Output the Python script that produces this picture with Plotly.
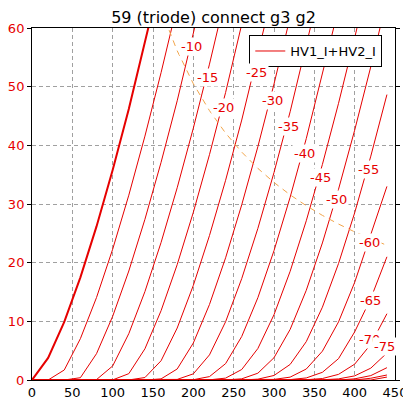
import plotly.graph_objects as go

# Plate voltage sample points (V)
va = [0, 20, 40, 60, 80, 100, 120, 140, 160, 180, 200, 220,
      240, 260, 280, 300, 320, 340, 360, 380, 400, 420, 440]

# Grid voltages (V)
grid_v = [0, -5, -10, -15, -20, -25, -30, -35, -40, -45,
          -50, -55, -60, -65, -70, -75, -80, -85, -90]

# Plate current (mA) for each grid voltage
ia_g0 = [0, 3.76, 9.92, 17.5, 26.18, 35.78, 46.18, 57.31, 69.09]
ia_g5 = [0, 0, 1.71, 7.05, 14.06, 22.29, 31.5, 41.57, 52.39, 63.89]
ia_g10 = [0, 0, 0, 0.39, 4.49, 10.85, 18.58, 27.39, 37.1, 47.59, 58.81, 70.65]
ia_g15 = [0, 0, 0, 0, 0.07, 2.39, 7.9, 15.07, 23.44, 32.77, 42.93, 53.84, 65.44]
ia_g20 = [0, 0, 0, 0, 0, 0.02, 1.08, 5.32, 11.81, 19.67, 28.59, 38.41, 49.01,
          60.31, 72.26]
ia_g25 = [0, 0, 0, 0, 0, 0, 0.01, 0.42, 3.28, 8.86, 16.13, 24.62, 34.04,
          44.31, 55.32, 66.99]
ia_g30 = [0, 0, 0, 0, 0, 0, 0, 0, 0.19, 1.88, 6.31, 12.87, 20.83, 29.86,
          39.77, 50.45, 61.83]
ia_g35 = [0, 0, 0, 0, 0, 0, 0, 0, 0, 0.1, 1.05, 4.28, 9.93, 17.28, 25.84,
          35.37, 45.72, 56.8, 68.55]
ia_g40 = [0, 0, 0, 0, 0, 0, 0, 0, 0, 0, 0.05, 0.58, 2.79, 7.42, 14.03,
          22.05, 31.15, 41.15, 51.91, 63.36]
ia_g45 = [0, 0, 0, 0, 0, 0, 0, 0, 0, 0, 0, 0.03, 0.32, 1.79, 5.37, 11.13,
          18.52, 27.14, 36.74, 47.16, 58.32, 70.1]
ia_g50 = [0, 0, 0, 0, 0, 0, 0, 0, 0, 0, 0, 0, 0.02, 0.2, 1.16, 3.8, 8.62,
          15.29, 23.36, 32.51, 42.58, 53.41, 64.95]
ia_g55 = [0, 0, 0, 0, 0, 0, 0, 0, 0, 0, 0, 0, 0, 0, 0.14, 0.77, 2.65,
          6.54, 12.41, 19.85, 28.5, 38.16, 48.65]
ia_g60 = [0, 0, 0, 0, 0, 0, 0, 0, 0, 0, 0, 0, 0, 0, 0, 0.1, 0.49, 1.87,
          4.91, 9.9, 16.64, 24.74, 33.0]
ia_g65 = [0, 0, 0, 0, 0, 0, 0, 0, 0, 0, 0, 0, 0, 0, 0, 0, 0.07, 0.35,
          1.31, 3.64, 8.2, 13.9, 21.0]
ia_g70 = [0, 0, 0, 0, 0, 0, 0, 0, 0, 0, 0, 0, 0, 0, 0, 0, 0, 0.05, 0.25,
          0.96, 2.7, 6.09, 11.3]
ia_g75 = [0, 0, 0, 0, 0, 0, 0, 0, 0, 0, 0, 0, 0, 0, 0, 0, 0, 0, 0.04,
          0.19, 0.7, 2.02, 4.6]
ia_g80 = [0, 0, 0, 0, 0, 0, 0, 0, 0, 0, 0, 0, 0, 0, 0, 0, 0, 0, 0, 0,
          0.2, 0.75, 2.1]
ia_g85 = [0, 0, 0, 0, 0, 0, 0, 0, 0, 0, 0, 0, 0, 0, 0, 0, 0, 0, 0, 0, 0,
          0.3, 0.85]
ia_g90 = [0, 0, 0, 0, 0, 0, 0, 0, 0, 0, 0, 0, 0, 0, 0, 0, 0, 0, 0, 0, 0,
          0, 0.5]

# Plate dissipation limit curve (dashed orange)
pd_va = [160, 180, 200, 220, 240, 260, 280, 300, 320, 340, 360, 380, 400,
         420, 440]
pd_ia = [63.13, 56.11, 50.5, 45.91, 42.08, 38.85, 36.07, 33.67, 31.56,
         29.71, 28.06, 26.58, 25.25, 24.05, 22.95]

# Curve labels
label_text = ["-10", "-15", "-20", "-25", "-30", "-35", "-40", "-45", "-50",
              "-55", "-60", "-65", "-70", "-75"]
label_va = [197.9, 217.3, 237.1, 277.7, 298.4, 317.8, 337.3, 357.2, 377.0,
            417.1, 418.4, 419.2, 418.0, 437.3]
label_ia = [56.9, 51.6, 46.4, 52.5, 47.7, 43.2, 38.6, 34.5, 30.7,
            35.9, 23.5, 13.6, 6.9, 5.7]

curves = [ia_g0, ia_g5, ia_g10, ia_g15, ia_g20, ia_g25, ia_g30, ia_g35,
          ia_g40, ia_g45, ia_g50, ia_g55, ia_g60, ia_g65, ia_g70, ia_g75,
          ia_g80, ia_g85, ia_g90]

FONT = "DejaVu Sans"
RED = "#e60000"

fig = go.Figure()
for g, ia in zip(grid_v, curves):
    fig.add_trace(go.Scatter(
        x=va[:len(ia)], y=ia, mode="lines",
        line=dict(color=RED, width=2 if g == 0 else 1),
        name="HV1_I+HV2_I",
        showlegend=(g == -5),
        hoverinfo="skip",
    ))

fig.add_trace(go.Scatter(
    x=pd_va, y=pd_ia, mode="lines",
    line=dict(color="#f2a54a", width=1, dash="6px,5px"),
    showlegend=False, hoverinfo="skip",
))

for t, x, y in zip(label_text, label_va, label_ia):
    fig.add_annotation(x=x, y=y, text=t, showarrow=False,
                       font=dict(family=FONT, size=13, color=RED),
                       bgcolor="white", borderpad=1)

grid_style = dict(showgrid=True, gridcolor="#a0a0a0", gridwidth=1,
                  griddash="4px,3px", zeroline=False, showline=True,
                  linecolor="black", linewidth=1, automargin=False)

# The page body adds an 8px offset, so the figure is 8px smaller than the window
fig.update_layout(
    width=403, height=398,
    margin=dict(l=24, r=16, t=20, b=26),
    paper_bgcolor="white", plot_bgcolor="white",
    font=dict(family=FONT, size=13, color="black"),
    title=dict(text="59 (triode) connect g3 g2", x=0.5, xref="paper",
               xanchor="center", y=0.976, yref="container", yanchor="middle",
               font=dict(family=FONT, size=16, color="black")),
    xaxis=dict(range=[0, 450], tick0=0, dtick=50, ticks="", mirror=True,
               tickfont=dict(family=FONT, size=13, color="black"),
               **grid_style),
    yaxis=dict(range=[0, 60], tick0=0, dtick=10, ticks="outside", ticklen=4,
               tickcolor="black", mirror="ticks",
               tickfont=dict(family=FONT, size=13, color=RED),
               **grid_style),
    legend=dict(x=0.965, xanchor="right", y=0.98, yanchor="top",
                bgcolor="white", bordercolor="black", borderwidth=1,
                font=dict(family=FONT, size=13, color="black"),
                itemwidth=30),
    showlegend=True,
)

fig.write_html("out.html")
